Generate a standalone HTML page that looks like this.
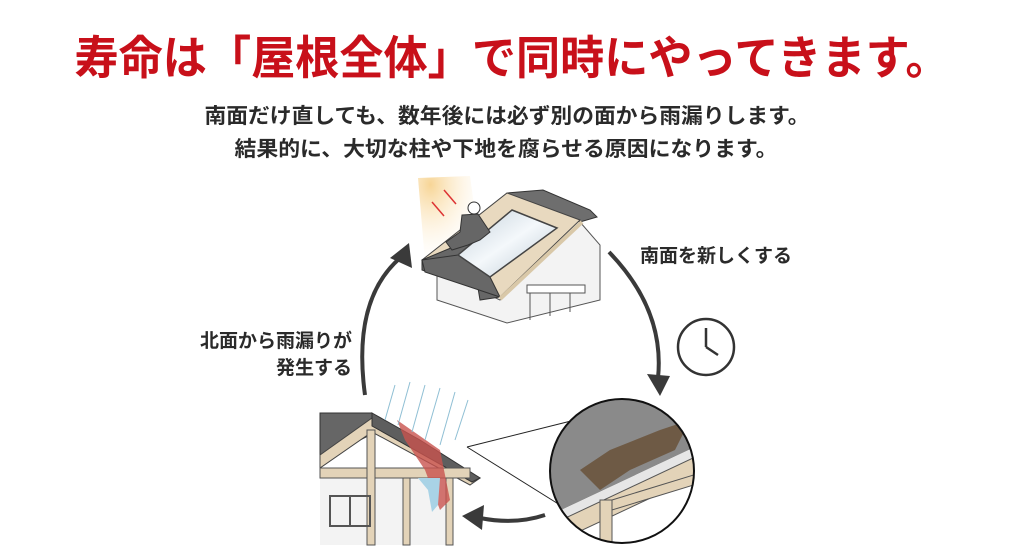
<!DOCTYPE html>
<html><head><meta charset="utf-8"><style>
html,body{margin:0;padding:0;background:#fff;}
svg{display:block;}
text{font-family:"Liberation Sans","Noto Sans CJK JP",sans-serif;}
</style></head><body>
<svg width="1024" height="560" viewBox="0 0 1024 560" xmlns="http://www.w3.org/2000/svg">
<defs>
<radialGradient id="sun" cx="0.2" cy="0.1" r="0.9">
<stop offset="0" stop-color="#f7d596"/><stop offset="1" stop-color="#fff6e6" stop-opacity="0"/>
</radialGradient>
<linearGradient id="glass" x1="0" y1="0" x2="1" y2="1">
<stop offset="0" stop-color="#c3d0da"/><stop offset="0.5" stop-color="#f4f8fb"/><stop offset="1" stop-color="#b8c6d1"/>
</linearGradient>
<clipPath id="zc"><circle cx="622" cy="471" r="72"/></clipPath>
</defs>

<text x="512" y="74" text-anchor="middle" font-size="46" font-weight="bold" fill="#c8101a" textLength="875" lengthAdjust="spacingAndGlyphs">寿命は「屋根全体」で同時にやってきます。</text>
<text x="507" y="123" text-anchor="middle" font-size="21" font-weight="bold" fill="#2a2a2a" textLength="605" lengthAdjust="spacingAndGlyphs">南面だけ直しても、数年後には必ず別の面から雨漏りします。</text>
<text x="506" y="156" text-anchor="middle" font-size="21" font-weight="bold" fill="#2a2a2a" textLength="543" lengthAdjust="spacingAndGlyphs">結果的に、大切な柱や下地を腐らせる原因になります。</text>

<!-- top house -->
<polygon points="418,178 470,176 480,250 425,262" fill="url(#sun)"/>
<!-- wall -->
<polygon points="437,270 500,300 580,222 600,245 600,300 507,323 437,300" fill="#f3f3f3" stroke="#555" stroke-width="1"/>
<!-- north roof -->
<polygon points="507,193 543,190 590,210 597,217 580,222" fill="#6e6e6e" stroke="#333" stroke-width="1"/>
<!-- south roof -->
<polygon points="422,260 507,193 580,220 500,297" fill="#e8d9bf" stroke="#444" stroke-width="1"/>
<polygon points="422,260 470,240 480,300 500,297 422,270" fill="#676767" stroke="#333" stroke-width="1"/>
<polygon points="422,260 458,255 490,277 500,297 425,272" fill="#676767" stroke="#333" stroke-width="1"/>
<line x1="500" y1="299" x2="582" y2="222" stroke="#d9c8a8" stroke-width="4"/>
<polygon points="512,210 557,228 490,277 458,255" fill="url(#glass)" stroke="#444" stroke-width="1.5"/>
<rect x="527" y="285" width="58" height="8" fill="#fff" stroke="#555"/>
<line x1="530" y1="293" x2="530" y2="320" stroke="#555"/><line x1="550" y1="293" x2="550" y2="316" stroke="#555"/><line x1="570" y1="293" x2="570" y2="312" stroke="#555"/>
<circle cx="474" cy="208" r="6" fill="#fff" stroke="#333"/>
<path d="M462,215 L478,214 L490,232 L480,240 L468,245 L452,250 L446,242 L460,232 Z" fill="#666" stroke="#333"/>
<line x1="432" y1="202" x2="444" y2="216" stroke="#d33" stroke-width="1.5"/>
<line x1="444" y1="190" x2="456" y2="204" stroke="#d33" stroke-width="1.5"/>

<!-- arrows -->
<path d="M365,395 Q352,300 400,258" fill="none" stroke="#3a3a3a" stroke-width="4"/>
<polygon points="409,243 412,268 390,258" fill="#3a3a3a"/>
<path d="M609,252 Q665,310 658,378" fill="none" stroke="#3a3a3a" stroke-width="4"/>
<polygon points="660,396 647,374 670,376" fill="#3a3a3a"/>
<path d="M545,515 Q515,525 480,518" fill="none" stroke="#3a3a3a" stroke-width="4"/>
<polygon points="462,516 484,505 482,530" fill="#3a3a3a"/>

<text x="640" y="262" font-size="19" font-weight="bold" fill="#2a2a2a">南面を新しくする</text>
<text x="352" y="347" font-size="19" font-weight="bold" fill="#2a2a2a" text-anchor="end">北面から雨漏りが</text>
<text x="352" y="374" font-size="19" font-weight="bold" fill="#2a2a2a" text-anchor="end">発生する</text>

<!-- clock -->
<circle cx="706" cy="347" r="28" fill="#fff" stroke="#333" stroke-width="2.5"/>
<line x1="706" y1="347" x2="706" y2="328" stroke="#333" stroke-width="2.5"/>
<line x1="706" y1="347" x2="718" y2="355" stroke="#333" stroke-width="2.5"/>

<!-- bottom house -->
<polygon points="320,413 372,413 380,430 320,460" fill="#666" stroke="#333"/>
<rect x="320" y="468" width="130" height="77" fill="#f3f3f3"/>
<polygon points="320,455 372,418 480,478 470,485 372,432 320,468" fill="#e3d3b8" stroke="#444"/>
<polygon points="372,413 420,440 480,478 472,482 372,426" fill="#5e5e5e" stroke="#333"/>
<rect x="320" y="468" width="150" height="10" fill="#e3d3b8" stroke="#555"/>
<rect x="367" y="430" width="8" height="115" fill="#e3d3b8" stroke="#555"/>
<rect x="403" y="478" width="7" height="67" fill="#e3d3b8" stroke="#555"/>
<rect x="446" y="478" width="7" height="67" fill="#e3d3b8" stroke="#555"/>
<path d="M397,420 L440,450 L450,500 L440,510 L425,470 L405,440 Z" fill="#c8524e" opacity="0.8"/>
<path d="M418,478 L440,478 L438,505 L432,512 L428,490 Z" fill="#a9d3e6"/>
<rect x="330" y="496" width="40" height="30" fill="none" stroke="#555" stroke-width="2"/>
<line x1="350" y1="496" x2="350" y2="526" stroke="#555" stroke-width="2"/>
<g stroke="#8fbfd4" stroke-width="1">
<line x1="385" y1="420" x2="395" y2="385"/><line x1="398" y1="425" x2="410" y2="382"/><line x1="412" y1="432" x2="425" y2="385"/><line x1="425" y1="440" x2="440" y2="388"/><line x1="440" y1="445" x2="455" y2="392"/><line x1="455" y1="440" x2="468" y2="400"/>
</g>

<!-- zoom lines + circle -->
<line x1="467" y1="447" x2="575" y2="420" stroke="#222" stroke-width="1"/>
<line x1="467" y1="447" x2="560" y2="505" stroke="#222" stroke-width="1"/>
<g clip-path="url(#zc)">
<rect x="540" y="390" width="170" height="170" fill="#fff"/>
<polygon points="540,390 710,390 710,440 540,520" fill="#8a8a8a"/>
<polygon points="540,520 710,440 710,450 540,530" fill="#e6e6e6"/>
<polygon points="540,530 710,450 710,470 540,550" fill="#e3d3b8" stroke="#555"/>
<path d="M580,470 L610,450 L660,430 L690,420 L675,450 L630,470 L600,490 Z" fill="#6e5a45"/>
<rect x="600" y="500" width="12" height="60" fill="#e3d3b8" stroke="#555"/>
<polygon points="612,500 710,470 710,480 612,510" fill="#e3d3b8" stroke="#555"/>
</g>
<circle cx="622" cy="471" r="72" fill="none" stroke="#111" stroke-width="2"/>
</svg>
</body></html>
